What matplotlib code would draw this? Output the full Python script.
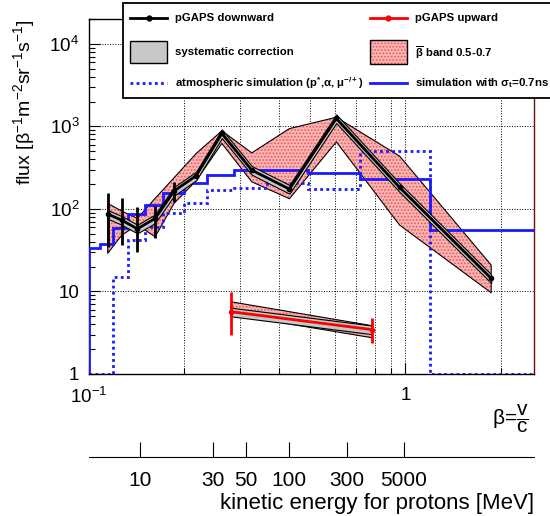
import numpy as np
import matplotlib
matplotlib.use('Agg')
import matplotlib.pyplot as plt
from matplotlib.patches import Rectangle
from matplotlib.ticker import LogLocator, NullFormatter, NullLocator

plt.rcParams['font.family'] = ['Liberation Sans', 'DejaVu Sans']
plt.rcParams['mathtext.fontset'] = 'custom'
plt.rcParams['mathtext.rm'] = 'Liberation Sans'
plt.rcParams['mathtext.it'] = 'Liberation Sans'
plt.rcParams['mathtext.bf'] = 'Liberation Sans:bold'
plt.rcParams['mathtext.default'] = 'regular'
plt.rcParams['hatch.linewidth'] = 0.8

# pGAPS downward (black)
beta_down = [0.1146, 0.1269, 0.1422, 0.1618, 0.1858, 0.2182, 0.263, 0.327, 0.430, 0.605, 0.959, 1.867]
flux_down = [86.5, 73, 57.4, 76.7, 165, 253, 820, 295, 174, 1247, 182, 14.4]
err_lo_down = [35, 36.5, 30, 45, 122]
err_hi_down = [154, 134, 106, 110, 213]
# beta band 0.5-0.7 around downward points
band_hi_down = [117, 94, 77, 134, 239, 470, 883, 478, 940, 1290, 436, 20.9]
band_lo_down = [29, 48, 64, 46, 117, 220, 621, 213, 133, 649, 63.7, 9.64]

# pGAPS upward (red)
beta_up = [0.2808, 0.785]
flux_up = [5.68, 3.45]
err_lo_up = [2.96, 2.39]
err_hi_up = [9.92, 4.8]
band_hi_up = [7.5, 3.85]
band_lo_up = [5.3, 2.75]

sys_frac = 0.12

# simulation histograms
sim_edges = [0.1, 0.108, 0.1194, 0.1332, 0.1504, 0.1719, 0.1998, 0.2357, 0.2883, 0.365, 0.493, 0.720, 1.2, 3.0]
sim_sigma = [33.8, 37.5, 59, 85.8, 113, 154, 204, 257, 295, 295, 269, 228, 55.4]
sim_atmo = [1, 1, 15.1, 41.9, 60.7, 89.7, 117, 169, 177, 205, 172, 505, 1]

# kinetic energy axis
kin_ticks = [10, 30, 50, 100, 300, 5000]
kin_labels = ['10', '30', '50', '100', '300', '5000']
m_p = 938.272
kin_beta = [np.sqrt(1 - (m_p / (m_p + t)) ** 2) for t in kin_ticks]

band_face = '#f9b4b4'
band_hatch = '#ee5555'

fig = plt.figure(figsize=(5.5, 5.16), dpi=100)
ax = fig.add_axes([89 / 550, 142 / 516, 445 / 550, 355 / 516])
ax.set_xscale('log')
ax.set_yscale('log')
ax.set_xlim(0.1, 2.55)
ax.set_ylim(1, 2e4)

ax.grid(True, which='major', axis='y', ls=':', color='k', lw=0.7)
ax.grid(True, which='both', axis='x', ls=':', color='k', lw=0.7)
ax.set_axisbelow(True)

bd = np.array(beta_down)
fd = np.array(flux_down)
bu = np.array(beta_up)
fu = np.array(flux_up)

# beta band (red hatched)
for b, lo, hi in [(bd, band_lo_down, band_hi_down), (bu, band_lo_up, band_hi_up)]:
    ax.fill_between(b, lo, hi, facecolor=band_face, edgecolor=band_hatch, hatch='.....', lw=0, zorder=2)
    ax.fill_between(b, lo, hi, facecolor='none', edgecolor='k', lw=0.8, zorder=2.1)

# simulations
ax.stairs(sim_atmo, sim_edges, baseline=1, color='#1a1aff', lw=2, ls=(0, (1, 1.2)), zorder=3)
ax.stairs(sim_sigma, sim_edges, baseline=1, color='#1a1aff', lw=2, zorder=3)

# systematic band (gray)
for b, f in [(bd, fd), (bu, fu)]:
    ax.fill_between(b, f * (1 - sys_frac), f * (1 + sys_frac), facecolor='#c8c8c8', edgecolor='k', lw=0.8, zorder=4)

# data
ax.vlines(bd[:5], err_lo_down, err_hi_down, color='k', lw=2, zorder=5)
ax.plot(bd, fd, color='k', lw=2, marker='o', ms=3, zorder=5)
ax.vlines(bu, err_lo_up, err_hi_up, color='red', lw=2, zorder=5)
ax.plot(bu, fu, color='red', lw=2, marker='o', ms=3, zorder=5)

ax.set_xticks([0.1, 1])
ax.set_xticklabels([r'$10^{-1}$', '1'])
ax.xaxis.set_minor_locator(LogLocator(base=10, subs=range(2, 10)))
ax.xaxis.set_minor_formatter(NullFormatter())
ax.set_yticks([1, 10, 100, 1e3, 1e4])
ax.set_yticklabels(['1', '10', r'$10^{2}$', r'$10^{3}$', r'$10^{4}$'])
ax.yaxis.set_minor_locator(LogLocator(base=10, subs=range(2, 10)))
ax.yaxis.set_minor_formatter(NullFormatter())
ax.tick_params(which='major', direction='in', length=8, width=0.8, labelsize=13.5, top=False, right=False)
ax.tick_params(which='minor', direction='in', length=4, width=0.8, top=False, right=False)
ax.tick_params(axis='x', which='major', pad=9)
ax.tick_params(axis='y', which='major', pad=7)
for s in ax.spines.values():
    s.set_linewidth(1)
ax.spines['right'].set_color('#6b1010')

ax.set_ylabel(r'flux [$\beta^{-1}$m$^{-2}$sr$^{-1}$s$^{-1}$]', fontsize=14, loc='top')
ax.yaxis.set_label_coords(-0.117, 1.0)

fig.text(510 / 550, 1 - 419 / 516, r'$\beta$=$\dfrac{v}{c}$', fontsize=15, ha='center', va='center')

# kinetic energy axis
ax2 = fig.add_axes([89 / 550, 59 / 516, 445 / 550, 0.01])
ax2.set_xscale('log')
ax2.set_xlim(0.1, 2.55)
ax2.set_xticks(kin_beta)
ax2.set_xticklabels(kin_labels)
ax2.xaxis.set_minor_locator(NullLocator())
ax2.set_yticks([])
for k in ['top', 'left', 'right']:
    ax2.spines[k].set_visible(False)
ax2.patch.set_visible(False)
ax2.tick_params(axis='x', direction='in', length=11, width=0.8, labelsize=15, pad=10)
ax2.set_xlabel('kinetic energy for protons [MeV]', fontsize=16, loc='right', labelpad=2)

# legend
lax = fig.add_axes([122 / 550, 1 - 98 / 516, 428 / 550, 96 / 516])
lax.set_xlim(0, 428)
lax.set_ylim(96, 0)
lax.axis('off')
lax.add_patch(Rectangle((0.5, 0.5), 430, 95, facecolor='white', edgecolor='k', lw=1.3, clip_on=False))
lfs = 8.2
lax.plot([8, 45], [16, 16], color='k', lw=2)
lax.plot([26.5], [16], 'o', color='k', ms=3.5)
lax.text(53, 16, 'pGAPS downward', fontsize=lfs, fontweight='bold', va='center')
lax.plot([248, 285], [16, 16], color='red', lw=2)
lax.plot([266.5], [16], 'o', color='red', ms=3.5)
lax.text(293, 16, 'pGAPS upward', fontsize=lfs, fontweight='bold', va='center')
lax.add_patch(Rectangle((8, 39), 37, 22, facecolor='#c8c8c8', edgecolor='k', lw=1))
lax.text(53, 50, 'systematic correction', fontsize=lfs, fontweight='bold', va='center')
lax.add_patch(Rectangle((248, 38), 37, 24, facecolor=band_face, edgecolor=band_hatch, hatch='.....', lw=0))
lax.add_patch(Rectangle((248, 38), 37, 24, facecolor='none', edgecolor='k', lw=1))
lax.text(293, 51, r'$\overline{\beta}$ band 0.5-0.7', fontsize=lfs, fontweight='bold', va='center')
lax.plot([8, 45], [81, 81], color='#1a1aff', lw=2, ls=(0, (1, 1.2)))
lax.text(53, 81, r'atmospheric simulation (p$^{*}$,$\alpha$, $\mu^{-/+}$)', fontsize=lfs, fontweight='bold', va='center')
lax.plot([248, 285], [81, 81], color='#1a1aff', lw=2)
lax.text(293, 81, r'simulation with $\sigma_{t}$=0.7ns', fontsize=lfs, fontweight='bold', va='center')

fig.savefig('out.png', dpi=100)
